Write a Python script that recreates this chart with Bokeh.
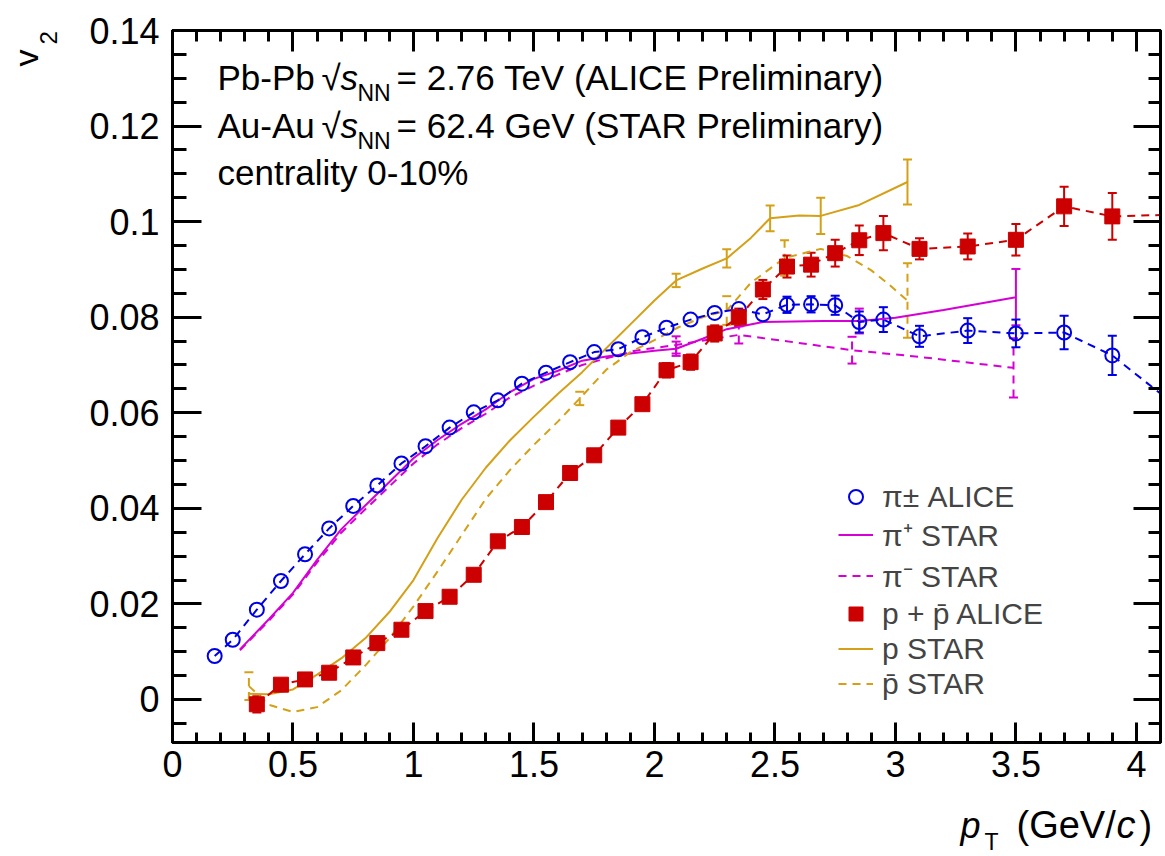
import numpy as np
from bokeh.plotting import figure
from bokeh.models import (ColumnDataSource, Whisker, TeeHead, LinearAxis, FixedTicker,
                          Range1d, Label, Legend, LegendItem, CustomJSTickFormatter)
from bokeh.embed import file_html
from bokeh.resources import INLINE

# ---------------- data ----------------
# ALICE pi+- (open circles)
pi_alice_pt = [0.175, 0.25, 0.35, 0.45, 0.55, 0.65, 0.75, 0.85, 0.95, 1.05, 1.15, 1.25, 1.35, 1.45,
               1.55, 1.65, 1.75, 1.85, 1.95, 2.05, 2.15, 2.25, 2.35, 2.45, 2.55, 2.65, 2.75, 2.85,
               2.95, 3.1, 3.3, 3.5, 3.7, 3.9, 4.25]
pi_alice_v2 = [0.0091, 0.0125, 0.0188, 0.0248, 0.0304, 0.0358, 0.0405, 0.0448, 0.0494, 0.0530,
               0.0569, 0.0601, 0.0626, 0.0661, 0.0684, 0.0706, 0.0727, 0.0733, 0.0758, 0.0778,
               0.0795, 0.0809, 0.0817, 0.0806, 0.0826, 0.0827, 0.0825, 0.0790, 0.0795, 0.0760,
               0.0772, 0.0766, 0.0768, 0.0720, 0.0580]
pi_alice_err = [0.0003, 0.0003, 0.0003, 0.0003, 0.0003, 0.0003, 0.0003, 0.0003, 0.0004, 0.0004,
                0.0004, 0.0004, 0.0005, 0.0005, 0.0005, 0.0006, 0.0006, 0.0007, 0.0008, 0.0008,
                0.0009, 0.0010, 0.0011, 0.0012, 0.0017, 0.0017, 0.0020, 0.0022, 0.0026, 0.0022,
                0.0026, 0.0029, 0.0035, 0.0041, 0.0050]

# ALICE p + pbar (full squares)
p_alice_pt = [0.35, 0.45, 0.55, 0.65, 0.75, 0.85, 0.95, 1.05, 1.15, 1.25, 1.35, 1.45, 1.55, 1.65,
              1.75, 1.85, 1.95, 2.05, 2.15, 2.25, 2.35, 2.45, 2.55, 2.65, 2.75, 2.85, 2.95,
              3.1, 3.3, 3.5, 3.7, 3.9, 4.25]
p_alice_v2 = [-0.0010, 0.0031, 0.0042, 0.0056, 0.0088, 0.0118, 0.0146, 0.0185, 0.0215, 0.0261,
              0.0331, 0.0361, 0.0413, 0.0474, 0.0511, 0.0569, 0.0618, 0.0689, 0.0706, 0.0766,
              0.0800, 0.0858, 0.0906, 0.0910, 0.0934, 0.0961, 0.0976, 0.0943, 0.0948, 0.0962,
              0.1032, 0.1011, 0.1016]
p_alice_err = [0.0017, 0.0005, 0.0005, 0.0005, 0.0005, 0.0006, 0.0006, 0.0006, 0.0007, 0.0007,
               0.0008, 0.0008, 0.0009, 0.0010, 0.0011, 0.0012, 0.0013, 0.0015, 0.0016, 0.0017,
               0.0018, 0.0020, 0.0023, 0.0025, 0.0028, 0.0031, 0.0036, 0.0022, 0.0027, 0.0033,
               0.0041, 0.0049, 0.0060]

# STAR pi+ (solid magenta)
pip_pt = [0.28, 0.40, 0.50, 0.60, 0.70, 0.80, 0.90, 1.00, 1.10, 1.20, 1.30, 1.40, 1.50, 1.60,
          1.70, 1.80, 1.90, 2.00, 2.09, 2.20, 2.30, 2.45, 2.70, 2.85, 3.00, 3.20, 3.50]
pip_v2 = [0.0105, 0.0168, 0.0223, 0.0292, 0.0356, 0.0406, 0.0455, 0.0505, 0.0543, 0.0577,
          0.0607, 0.0643, 0.0671, 0.0688, 0.0709, 0.0718, 0.0724, 0.0730, 0.0734, 0.0755,
          0.0775, 0.0790, 0.0792, 0.0792, 0.0799, 0.0815, 0.0842]
pip_err_pt = [2.09, 2.85, 3.50]
pip_err_v2 = [0.0734, 0.0792, 0.0842]
pip_err = [0.0015, 0.0026, 0.0059]

# STAR pi- (dashed magenta)
pim_pt = [0.28, 0.40, 0.50, 0.60, 0.70, 0.80, 0.90, 1.00, 1.10, 1.20, 1.30, 1.40, 1.50, 1.60,
          1.70, 1.80, 1.92, 2.09, 2.35, 2.50, 2.82, 3.10, 3.49]
pim_v2 = [0.0103, 0.0165, 0.0220, 0.0287, 0.0349, 0.0398, 0.0446, 0.0494, 0.0534, 0.0568,
          0.0598, 0.0632, 0.0657, 0.0680, 0.0700, 0.0714, 0.0730, 0.0742, 0.0763, 0.0753,
          0.0731, 0.0717, 0.0694]
pim_err_pt = [2.09, 2.35, 2.82, 3.49]
pim_err_v2 = [0.0742, 0.0763, 0.0731, 0.0694]
pim_err = [0.0018, 0.0018, 0.0028, 0.0062]

# STAR p (solid gold)
p_pt = [0.317, 0.40, 0.50, 0.60, 0.70, 0.80, 0.90, 1.00, 1.10, 1.20, 1.30, 1.40, 1.50, 1.60,
        1.70, 1.80, 1.90, 2.00, 2.09, 2.20, 2.30, 2.40, 2.48, 2.60, 2.69, 2.85, 3.05]
p_v2 = [0.0012, 0.0011, 0.0021, 0.0052, 0.0086, 0.0128, 0.0183, 0.0250, 0.0338, 0.0418,
        0.0485, 0.0542, 0.0592, 0.0640, 0.0685, 0.0735, 0.0785, 0.0835, 0.0877, 0.0902,
        0.0923, 0.0966, 0.1007, 0.1013, 0.1012, 0.1035, 0.1083]
p_err_pt = [2.09, 2.30, 2.48, 2.69, 3.05]
p_err_v2 = [0.0877, 0.0923, 0.1007, 0.1012, 0.1083]
p_err = [0.0014, 0.0019, 0.0027, 0.0038, 0.0047]

# STAR pbar (dashed gold)
pbar_pt = [0.317, 0.40, 0.50, 0.60, 0.70, 0.80, 0.90, 1.00, 1.10, 1.20, 1.30, 1.40, 1.50, 1.60,
           1.69, 1.80, 1.90, 2.00, 2.10, 2.20, 2.30, 2.40, 2.54, 2.69, 2.80, 2.90, 2.97, 3.05]
pbar_v2 = [0.0028, -0.0011, -0.0026, -0.0016, 0.0019, 0.0071, 0.0128, 0.0195, 0.0268, 0.0344,
           0.0420, 0.0480, 0.0533, 0.0582, 0.0630, 0.0690, 0.0727, 0.0752, 0.0779, 0.0800,
           0.0814, 0.0872, 0.0924, 0.0943, 0.0928, 0.0898, 0.0870, 0.0835]
pbar_err_pt = [0.317, 1.69, 2.30, 2.54, 3.05]
pbar_err_v2 = [0.0028, 0.0630, 0.0814, 0.0924, 0.0835]
pbar_err = [0.0029, 0.0014, 0.0030, 0.0037, 0.0078]

# axes
x_ticks = [0, 0.5, 1, 1.5, 2, 2.5, 3, 3.5, 4]
x_tick_labels = ["0", "0.5", "1", "1.5", "2", "2.5", "3", "3.5", "4"]
y_ticks = [0, 0.02, 0.04, 0.06, 0.08, 0.1, 0.12, 0.14]
y_tick_labels = ["0", "0.02", "0.04", "0.06", "0.08", "0.1", "0.12", "0.14"]

# ---------------- style ----------------
FONT = "Liberation Sans"
BLUE = "#0000e6"
RED = "#cc0000"
MAG = "#d400d4"
GOLD = "#d4a017"
DASH = "8 6"

X_MIN, X_MAX = 0.0, 4.1
Y_MIN, Y_MAX = -0.009, 0.14
FL, FT, FW, FH = 172, 30, 988, 712   # frame left/top/width/height on the page

p = figure(frame_width=FW, frame_height=FH, x_range=Range1d(X_MIN, X_MAX),
           y_range=Range1d(Y_MIN, Y_MAX),
           output_backend="svg", toolbar_location=None,
           min_border_left=FL, min_border_right=3, min_border_top=FT, min_border_bottom=112)
p.xgrid.visible = False
p.ygrid.visible = False
p.outline_line_color = "black"
p.outline_line_width = 3
p.background_fill_color = "white"
p.border_fill_color = "white"

x_minor = [round(0.1 * i, 1) for i in range(42)]
y_minor = [round(-0.005 + 0.005 * i, 3) for i in range(31)]


def overrides(ticks, labels):
    d = {t: l for t, l in zip(ticks, labels)}
    d.update({l: l for l in labels})
    return d


def style_axis(ax, ticks, minor, labels, tin, tmin, show_labels=True):
    ax.ticker = FixedTicker(ticks=ticks, minor_ticks=minor)
    ax.axis_line_width = 3
    ax.axis_line_color = "black"
    ax.major_tick_in = tin
    ax.major_tick_out = 0
    ax.minor_tick_in = tmin
    ax.minor_tick_out = 0
    ax.major_tick_line_width = 3
    ax.minor_tick_line_width = 3
    ax.major_tick_line_color = "black"
    ax.minor_tick_line_color = "black"
    if show_labels:
        ax.major_label_overrides = overrides(ticks, labels)
        ax.major_label_text_font = FONT
        ax.major_label_text_font_size = "36px"
        ax.major_label_text_color = "black"
    else:
        ax.formatter = CustomJSTickFormatter(code="return ''")
        ax.major_label_standoff = 0
        ax.major_label_text_font_size = "0px"


style_axis(p.xaxis[0], x_ticks, x_minor, x_tick_labels, 20, 10)
p.xaxis[0].major_label_standoff = 8
style_axis(p.yaxis[0], y_ticks, y_minor, y_tick_labels, 29, 14)
p.yaxis[0].major_label_standoff = 13

top_ax = LinearAxis()
style_axis(top_ax, x_ticks, x_minor, x_tick_labels, 21, 11, show_labels=False)
p.add_layout(top_ax, "above")
right_ax = LinearAxis()
style_axis(right_ax, y_ticks, y_minor, y_tick_labels, 27, 12, show_labels=False)
p.add_layout(right_ax, "right")


def add_err(pts, vals, errs, color, dash="solid", min_err=0.0):
    keep = [i for i, x in enumerate(pts) if x <= X_MAX and errs[i] > min_err]
    src = ColumnDataSource(dict(
        x=[pts[i] for i in keep],
        lo=[vals[i] - errs[i] for i in keep],
        hi=[vals[i] + errs[i] for i in keep]))
    w = Whisker(source=src, base="x", lower="lo", upper="hi", dimension="height",
                line_color=color, line_width=2, line_dash=dash, level="underlay",
                upper_head=TeeHead(size=9, line_color=color, line_width=2),
                lower_head=TeeHead(size=9, line_color=color, line_width=2))
    p.add_layout(w)


# STAR curves
r_pip = p.line(pip_pt, pip_v2, line_color=MAG, line_width=2)
add_err(pip_err_pt, pip_err_v2, pip_err, MAG)
r_pim = p.line(pim_pt, pim_v2, line_color=MAG, line_width=2, line_dash=DASH)
add_err(pim_err_pt, pim_err_v2, pim_err, MAG, dash=DASH)
r_p = p.line(p_pt, p_v2, line_color=GOLD, line_width=2)
add_err(p_err_pt, p_err_v2, p_err, GOLD)
r_pbar = p.line(pbar_pt, pbar_v2, line_color=GOLD, line_width=2, line_dash=DASH)
add_err(pbar_err_pt, pbar_err_v2, pbar_err, GOLD, dash=DASH)

# ALICE points
p.line(pi_alice_pt, pi_alice_v2, line_color=BLUE, line_width=2, line_dash=DASH)
add_err(pi_alice_pt, pi_alice_v2, pi_alice_err, BLUE, min_err=0.0014)
r_pia = p.scatter(pi_alice_pt, pi_alice_v2, marker="circle", size=14, fill_color=None,
                  line_color=BLUE, line_width=2)

p.line(p_alice_pt, p_alice_v2, line_color=RED, line_width=2, line_dash=DASH)
add_err(p_alice_pt, p_alice_v2, p_alice_err, RED, min_err=0.0014)
r_pa = p.scatter(p_alice_pt, p_alice_v2, marker="square", size=15, fill_color=RED,
                 line_color=RED, line_width=1)

legend = Legend(items=[
    LegendItem(label="π± ALICE", renderers=[r_pia]),
    LegendItem(label="π⁺ STAR", renderers=[r_pip]),
    LegendItem(label="π⁻ STAR", renderers=[r_pim]),
    LegendItem(label="p + p̄ ALICE", renderers=[r_pa]),
    LegendItem(label="p STAR", renderers=[r_p]),
    LegendItem(label="p̄ STAR", renderers=[r_pbar]),
], location=(666, 41), padding=0, margin=0, spacing=-2, glyph_width=35, glyph_height=35,
    label_height=35, label_standoff=9, label_text_font=FONT, label_text_font_size="30px",
    border_line_color=None, background_fill_alpha=0)
p.add_layout(legend)


# ---------------- texts: page positions (baseline) converted to data coordinates --------------
def add_text(txt, px, py, size, style="normal", angle=0.0, side="center"):
    # texts are anchored at their vertical middle: shift from baseline by ~0.36 em
    if angle == 0.0:
        py = py - 0.36 * size
    else:
        px = px - 0.36 * size
    x = X_MIN + (px - FL) / FW * (X_MAX - X_MIN)
    y = Y_MAX - (py - FT) / FH * (Y_MAX - Y_MIN)
    lbl = Label(x=x, y=y, x_units="data", y_units="data",
                text=txt, text_font=FONT, text_font_size=f"{size}px", text_font_style=style,
                text_color="black", text_baseline="middle", text_align="left",
                angle=angle)
    p.add_layout(lbl, side)


# header
for line_y, sys_txt, rest in [(90, "Pb-Pb", "= 2.76 TeV (ALICE Preliminary)"),
                              (137.5, "Au-Au", "= 62.4 GeV (STAR Preliminary)")]:
    add_text(sys_txt, 217, line_y, 35)
    add_text("√", 321, line_y, 35)
    add_text("s", 340, line_y, 35, style="italic")
    add_text("NN", 357, line_y + 11, 23)
    add_text(rest, 396, line_y, 35)
add_text("centrality 0-10%", 217, 185, 35)

# x-axis title
add_text("p", 960, 838, 36, style="italic", side="below")
add_text("T", 984, 850, 23, side="below")
add_text("(GeV/", 1016, 838, 38, side="below")
add_text("c", 1116, 838, 38, style="italic", side="below")
add_text(")", 1139, 838, 38, side="below")

# y-axis title (rotated)
add_text("v", 38, 66, 34, angle=np.pi / 2, side="left")
add_text("2", 57, 44, 24, angle=np.pi / 2, side="left")

open("out.html", "w").write(file_html(p, INLINE))
